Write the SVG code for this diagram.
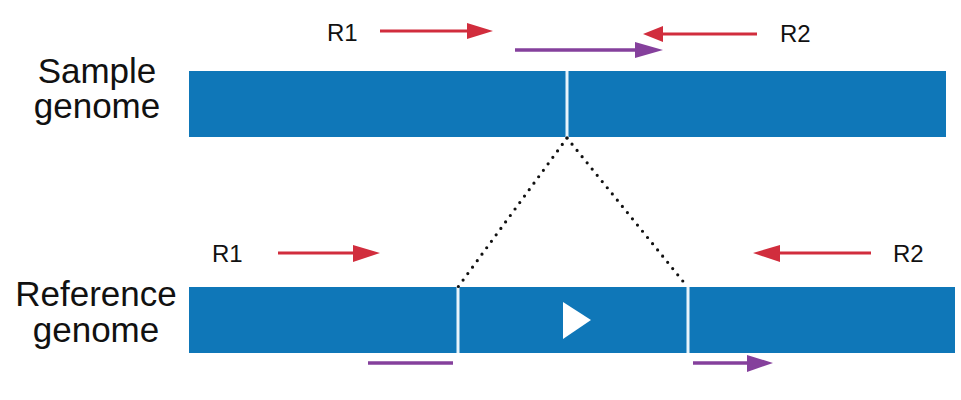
<svg xmlns="http://www.w3.org/2000/svg" width="961" height="400" viewBox="0 0 961 400">
<style>
.lbl{font-family:"Liberation Sans",Arial,sans-serif;fill:#111;}
.big{font-size:35px;}
.sm{font-size:24px;}
.bar{fill:#0f77b8;}
.gap{stroke:#e8f4fb;stroke-width:3;}
.red{stroke:#d12d3d;stroke-width:3;fill:none;}
.redh{fill:#d12d3d;}
.pur{stroke:#85409c;stroke-width:3.5;fill:none;}
.purh{fill:#85409c;}
.dot{stroke:#111;stroke-width:3.2;stroke-linecap:round;stroke-dasharray:0 8;fill:none;}
</style>
<rect width="961" height="400" fill="#fff"/>
<g id="sample-label">
<text class="lbl big" x="97" y="83" text-anchor="middle">Sample</text>
<text class="lbl big" x="97" y="118" text-anchor="middle">genome</text>
</g>
<g id="reference-label">
<text class="lbl big" x="96" y="306" text-anchor="middle">Reference</text>
<text class="lbl big" x="96" y="342" text-anchor="middle">genome</text>
</g>
<g id="sample-genome">
<rect class="bar" x="189" y="71" width="757" height="66"/>
<line class="gap" x1="567" y1="71" x2="567" y2="137"/>
</g>
<g id="reference-genome">
<rect class="bar" x="189" y="287" width="766" height="66"/>
<line class="gap" x1="458" y1="287" x2="458" y2="353"/>
<line class="gap" x1="688" y1="287" x2="688" y2="353"/>
<polygon points="563,302 591,320 563,339" fill="#fff"/>
</g>
<g id="primers-top">
<text class="lbl sm" x="327" y="41">R1</text>
<text class="lbl sm" x="780" y="42">R2</text>
</g>
<g id="primers-bottom">
<text class="lbl sm" x="212" y="262">R1</text>
<text class="lbl sm" x="893" y="262">R2</text>
</g>
<g id="connectors">
<line class="red" x1="380" y1="31" x2="470" y2="31"/>
<polygon class="redh" points="467,23 493,31 467,39"/>
<line class="red" x1="660" y1="34" x2="757" y2="34"/>
<polygon class="redh" points="663,26 643,34 663,42"/>
<line class="pur" x1="515" y1="50" x2="638" y2="50"/>
<polygon class="purh" points="635,42 663,50 635,58"/>
<line class="red" x1="278" y1="253" x2="356" y2="253"/>
<polygon class="redh" points="353,245 380,253 353,262"/>
<line class="red" x1="777" y1="253" x2="871" y2="253"/>
<polygon class="redh" points="780,245 753,253 780,262"/>
<line class="pur" x1="368" y1="363" x2="453" y2="363"/>
<line class="pur" x1="693" y1="363" x2="750" y2="363"/>
<polygon class="purh" points="747,355 773,363 747,372"/>
<line class="dot" x1="567" y1="138" x2="458" y2="287"/>
<line class="dot" x1="567" y1="138" x2="686" y2="285"/>
</g>
</svg>
